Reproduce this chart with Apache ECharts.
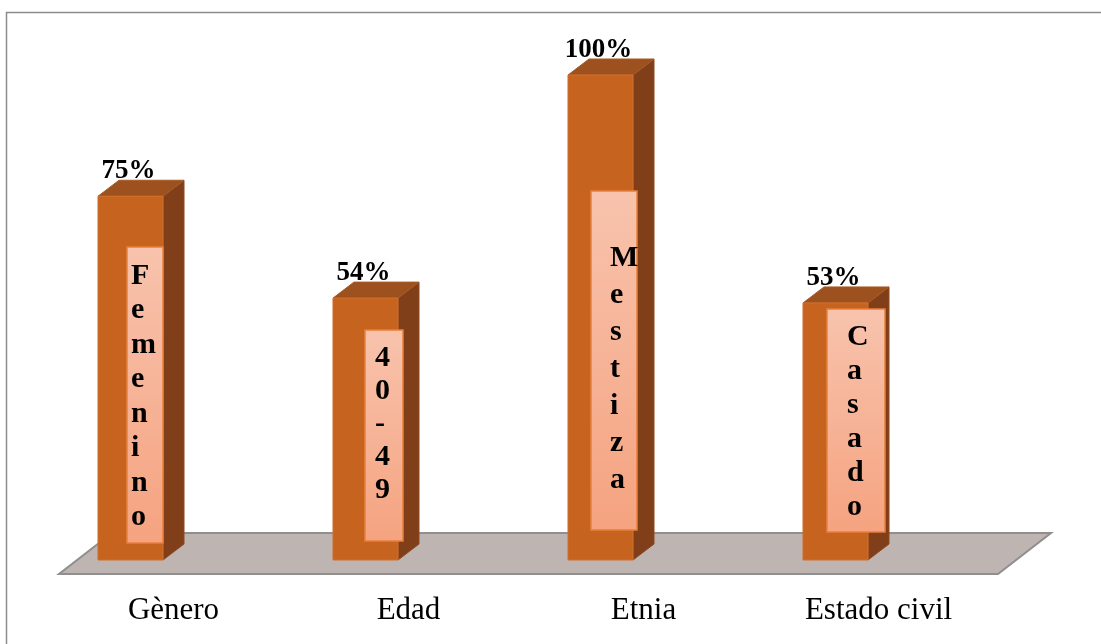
<!DOCTYPE html>
<html><head><meta charset="utf-8">
<script src="https://cdn.jsdelivr.net/npm/echarts@6/dist/echarts.min.js"></script>
<style>html,body{margin:0;padding:0;background:#fff}#c{width:1101px;height:644px}</style>
</head><body><div id="c"></div>
<script>
// ---- data ----
const categories = ['Gènero', 'Edad', 'Etnia', 'Estado civil'];
const values = [75, 54, 100, 53];
const valueLabels = ['75%', '54%', '100%', '53%'];
const innerLabels = ['Femenino', '40-49', 'Mestiza', 'Casado'];

// ---- styling / layout of the inner text boxes (pixel offsets from each bar's front-left / baseline) ----
const boxLayout = [
  { left: 29, width: 36, top: -313, bottom: -17, textLeft: 33, firstLine: -284, lineH: 34.5 },
  { left: 32, width: 38, top: -230, bottom: -19, textLeft: 42, firstLine: -202, lineH: 33 },
  { left: 23, width: 46, top: -369, bottom: -30, textLeft: 42, firstLine: -302, lineH: 37 },
  { left: 24, width: 58, top: -251, bottom: -28, textLeft: 44, firstLine: -223, lineH: 34 }
];
const DX = 21, DY = -16;            // oblique depth of the bars
const BAR_RATIO = 0.2766;           // bar width / band width
const SERIF = "'Liberation Serif','Times New Roman',serif";

function renderBar(params, api) {
  const i = api.value(0);
  const v = api.value(1);
  const topPt = api.coord([i, v]);
  const basePt = api.coord([i, 0]);
  const bw = api.size([1, 0])[0];
  const w = bw * BAR_RATIO;
  const cx = topPt[0];
  const x0 = cx - w / 2, x1 = cx + w / 2;
  const yT = topPt[1], yB = basePt[1];
  const L = boxLayout[i];
  const chars = innerLabels[i].split('');
  const children = [
    { type: 'polygon', shape: { points: [[x1, yT], [x1 + DX, yT + DY], [x1 + DX, yB + DY], [x1, yB]] },
      style: { fill: '#803F18', stroke: '#8E4820', lineWidth: 1 } },
    { type: 'polygon', shape: { points: [[x0, yT], [x0 + DX, yT + DY], [x1 + DX, yT + DY], [x1, yT]] },
      style: { fill: '#9C511E', stroke: '#A65A26', lineWidth: 1 } },
    { type: 'rect', shape: { x: x0, y: yT, width: w, height: yB - yT },
      style: { fill: '#C5631F', stroke: '#D2702C', lineWidth: 1 } },
    { type: 'rect', shape: { x: x0 + L.left, y: yB + L.top, width: L.width, height: L.bottom - L.top },
      style: {
        fill: { type: 'linear', x: 0, y: 0, x2: 0, y2: 1,
          colorStops: [{ offset: 0, color: '#F8C3AD' }, { offset: 1, color: '#F5A380' }] },
        stroke: '#E9803C', lineWidth: 1.5 } },
    { type: 'text', x: x0 + L.textLeft, y: yB + L.firstLine - L.lineH / 2,
      style: { text: chars.join('\n'), fill: '#000', font: "bold 30px " + SERIF,
        lineHeight: L.lineH, align: 'left', verticalAlign: 'top' } },
    { type: 'text', x: cx - 2, y: yT - 25,
      style: { text: valueLabels[i], fill: '#000', font: "bold 27px " + SERIF,
        align: 'center', verticalAlign: 'middle' } }
  ];
  return { type: 'group', children };
}

function renderFloor(params, api) {
  const first = api.coord([0, 0]);
  const last = api.coord([categories.length - 1, 0]);
  const bw = api.size([1, 0])[0];
  const yBase = first[1];
  const fl = first[0] - bw / 2 + 46, fr = last[0] + bw / 2 + 45;
  const yF = yBase + 14;
  const pts = [[fl, yF], [fr, yF], [fr + 53, yF - 41], [fl + 53, yF - 41]];
  return { type: 'polygon', shape: { points: pts },
    style: { fill: '#BEB4B2', stroke: '#8F8F8F', lineWidth: 2 } };
}

const chart = echarts.init(document.getElementById('c'), null, { renderer: 'canvas' });
chart.setOption({
  animation: false,
  backgroundColor: '#ffffff',
  grid: { left: 13, right: 148, top: 75, bottom: 84, containLabel: false, outerBoundsMode: 'none' },
  xAxis: {
    type: 'category', data: categories,
    axisLine: { show: false }, axisTick: { show: false }, splitLine: { show: false },
    axisLabel: { color: '#000', fontFamily: SERIF, fontSize: 31, margin: 35, padding: [0, 0, 0, 86], interval: 0 }
  },
  yAxis: { type: 'value', min: 0, max: 100, show: false },
  graphic: [{ type: 'rect', left: 4, top: 10, shape: { width: 1200, height: 700 },
    style: { fill: 'none', stroke: '#8C8C8C', lineWidth: 1.5 }, silent: true }],
  series: [
    { type: 'custom', renderItem: renderFloor, data: [[0, 0]], z: 1, silent: true },
    { type: 'custom', renderItem: renderBar, data: values.map((v, i) => [i, v]), z: 2, silent: true }
  ]
});
</script>
</body></html>
